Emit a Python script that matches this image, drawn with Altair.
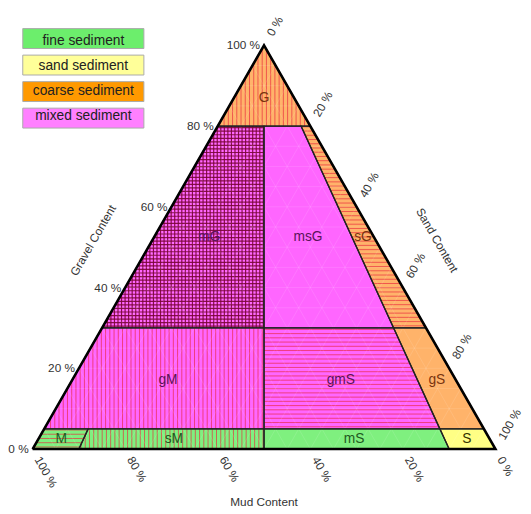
import altair as alt
import pandas as pd

# ---------------- data ----------------
classes = ["G", "mG", "msG", "sG", "gM", "gmS", "gS", "M", "sM", "mS", "S"]
gravel_low = [80, 30, 30, 30, 5, 5, 5, 0, 0, 0, 0]
gravel_high = [100, 80, 80, 80, 30, 30, 30, 5, 5, 5, 5]
# sand / (sand + mud) limits of each class
sand_ratio_low = [0, 0, 0.5, 0.9, 0, 0.5, 0.9, 0, 0.1, 0.5, 0.9]
sand_ratio_high = [1, 0.5, 0.9, 1, 0.5, 0.9, 1, 0.1, 0.5, 0.9, 1]
sediment_group = ["coarse sediment", "mixed sediment", "mixed sediment", "coarse sediment",
                  "mixed sediment", "mixed sediment", "coarse sediment",
                  "fine sediment", "fine sediment", "fine sediment", "sand sediment"]
hatch_style = ["vertical", "cross", "none", "horizontal", "vertical", "horizontal", "none",
               "horizontal", "vertical", "none", "none"]
label_gravel = [87, 52.5, 52.5, 52.5, 17, 17, 17, 2.6, 2.6, 2.6, 2.6]

legend_groups = ["fine sediment", "sand sediment", "coarse sediment", "mixed sediment"]
legend_colors = ["#6cee6c", "#ffff99", "#ff9900", "#ff80ff"]
region_colors = ["#7ff07f", "#ffff85", "#ffb36a", "#ff66ff"]
label_colors = ["#1f5a1f", "#333300", "#7a3510", "#5a145a"]

tick_values = [0, 20, 40, 60, 80, 100]
grid_levels = list(range(5, 100, 5))

FONT = "Liberation Sans, Arial, Helvetica, sans-serif"
W, H = 470, 410


def X(f, g):
    return f * (100 - g) + g / 2


def region_poly(i):
    g0, g1 = gravel_low[i], gravel_high[i]
    f0, f1 = sand_ratio_low[i], sand_ratio_high[i]
    return [(X(f0, g0), g0), (X(f1, g0), g0), (X(f1, g1), g1), (X(f0, g1), g1)]


def clip(poly, axis, c):
    pts = []
    n = len(poly)
    for k in range(n):
        (ax, ay), (bx, by) = poly[k], poly[(k + 1) % n]
        if axis == "x":
            a, b, ao, bo = ax, bx, ay, by
        else:
            a, b, ao, bo = ay, by, ax, bx
        if abs(a - b) < 1e-12:
            if abs(a - c) < 1e-9:
                pts += [ao, bo]
            continue
        if min(a, b) <= c <= max(a, b):
            t = (c - a) / (b - a)
            pts.append(ao + t * (bo - ao))
    if len(pts) < 2:
        return None
    lo, hi = min(pts), max(pts)
    if hi - lo < 1e-6:
        return None
    return lo, hi


color_of = dict(zip(legend_groups, region_colors))
lcolor_of = dict(zip(legend_groups, label_colors))

area_rows, border_rows, label_rows, hatch_rows = [], [], [], []
for i, c in enumerate(classes):
    g0, g1 = gravel_low[i], gravel_high[i]
    f0, f1 = sand_ratio_low[i], sand_ratio_high[i]
    for g in (g0, g1):
        area_rows.append({"region": c, "g": g, "xl": X(f0, g), "xr": X(f1, g),
                          "fill": color_of[sediment_group[i]]})
    poly = region_poly(i)
    for k, (px, py) in enumerate(poly + [poly[0]]):
        border_rows.append({"region": c, "o": k, "x": px, "y": py})
    label_rows.append({"x": X((f0 + f1) / 2, label_gravel[i]), "y": label_gravel[i], "t": c,
                       "col": lcolor_of[sediment_group[i]]})
    style = hatch_style[i]
    if style == "none":
        continue
    if style == "cross":
        vstep, hstep, col, w, op = 3.6 / (W / 100), 3.6 / (H / 100), "#7a0636", 1.2, 0.9
    else:
        vstep, hstep, col, w, op = 4.3 / (W / 100), 4.3 / (H / 100), "#e8283c", 0.9, 0.75
    xs_ = [p[0] for p in poly]
    ys_ = [p[1] for p in poly]
    if style in ("vertical", "cross"):
        xv = min(xs_) + vstep / 2
        while xv < max(xs_):
            r = clip(poly, "x", xv)
            if r:
                hatch_rows.append({"x": xv, "x2": xv, "y": r[0], "y2": r[1], "col": col, "w": w, "op": op})
            xv += vstep
    if style in ("horizontal", "cross"):
        yv = min(ys_) + hstep / 2
        while yv < max(ys_):
            r = clip(poly, "y", yv)
            if r:
                hatch_rows.append({"x": r[0], "x2": r[1], "y": yv, "y2": yv, "col": col, "w": w, "op": op})
            yv += hstep

grid_rows = []
for v in grid_levels:
    grid_rows.append({"x": v / 2, "y": v, "x2": 100 - v / 2, "y2": v})
    grid_rows.append({"x": v, "y": 0, "x2": v + (100 - v) / 2, "y2": 100 - v})
    grid_rows.append({"x": 100 - v, "y": 0, "x2": (100 - v) / 2, "y2": 100 - v})

tri_rows = [{"o": k, "x": X(f, g), "y": g} for k, (f, g) in enumerate([(0, 0), (1, 0), (0.5, 100), (0, 0)])]

gravel_ticks = pd.DataFrame({"x": [v / 2 for v in tick_values], "y": tick_values,
                             "t": [f"{v} %" for v in tick_values]})
sand_ticks = pd.DataFrame({"x": [50 + v / 2 for v in tick_values], "y": [100 - v for v in tick_values],
                           "t": [f"{v} %" for v in tick_values]})
mud_ticks = pd.DataFrame({"x": [100 - v for v in tick_values], "y": [0] * len(tick_values),
                          "t": [f"{v} %" for v in tick_values]})

xs = alt.Scale(domain=[0, 100], nice=False, zero=False)
ys = alt.Scale(domain=[0, 100], nice=False, zero=False)


def XQ(f="x"):
    return alt.X(f + ":Q", scale=xs, axis=None)


def YQ(f="y"):
    return alt.Y(f + ":Q", scale=ys, axis=None)


areas = alt.Chart(pd.DataFrame(area_rows)).mark_area(orient="horizontal").encode(
    y=YQ("g"), x=alt.X("xl:Q", scale=xs, axis=None, stack=None), x2="xr:Q",
    detail="region:N", fill=alt.Fill("fill:N", scale=None))

hatch = alt.Chart(pd.DataFrame(hatch_rows)).mark_rule().encode(
    x=XQ(), y=YQ(), x2="x2:Q", y2="y2:Q",
    color=alt.Color("col:N", scale=None), strokeWidth=alt.StrokeWidth("w:Q", scale=None),
    opacity=alt.Opacity("op:Q", scale=None))

grid = alt.Chart(pd.DataFrame(grid_rows)).mark_rule(color="white", opacity=0.14, strokeWidth=0.8).encode(
    x=XQ(), y=YQ(), x2="x2:Q", y2="y2:Q")

borders = alt.Chart(pd.DataFrame(border_rows)).mark_line(color="#222222", strokeWidth=1.3).encode(
    x=XQ(), y=YQ(), detail="region:N", order="o:Q")

outline = alt.Chart(pd.DataFrame(tri_rows)).mark_line(color="#000000", strokeWidth=2.6,
                                                     strokeJoin="miter").encode(
    x=XQ(), y=YQ(), order="o:Q")

labels = alt.Chart(pd.DataFrame(label_rows)).mark_text(fontSize=14, font=FONT, baseline="middle").encode(
    x=XQ(), y=YQ(), text="t:N", color=alt.Color("col:N", scale=None))

g_t = alt.Chart(gravel_ticks).mark_text(fontSize=12, font=FONT, color="#333", align="right",
                                        baseline="middle", dx=-4).encode(x=XQ(), y=YQ(), text="t:N")
s_t = alt.Chart(sand_ticks).mark_text(fontSize=12, font=FONT, color="#333", align="left",
                                      baseline="middle", angle=300, dx=12).encode(x=XQ(), y=YQ(), text="t:N")
m_t = alt.Chart(mud_ticks).mark_text(fontSize=12, font=FONT, color="#333", align="left",
                                     baseline="middle", angle=60, dx=10).encode(x=XQ(), y=YQ(), text="t:N")

titles_df = pd.DataFrame({"x": [25, 75, 50], "y": [50, 50, 0],
                          "t": ["Gravel Content", "Sand Content", "Mud Content"]})
t_g = alt.Chart(titles_df.iloc[[0]]).mark_text(fontSize=12, font=FONT, color="#333", angle=300,
                                               dx=-22, dy=-52, baseline="middle").encode(x=XQ(), y=YQ(), text="t:N")
t_s = alt.Chart(titles_df.iloc[[1]]).mark_text(fontSize=12, font=FONT, color="#333", angle=60,
                                               dx=23, dy=-54, baseline="middle").encode(x=XQ(), y=YQ(), text="t:N")
t_m = alt.Chart(titles_df.iloc[[2]]).mark_text(fontSize=12, font=FONT, color="#333",
                                               dy=54, baseline="middle").encode(x=XQ(), y=YQ(), text="t:N")

leg_df = pd.DataFrame({"group": legend_groups})
leg_y = alt.Y("group:N", axis=None,
              scale=alt.Scale(domain=legend_groups, range=[-17, 84], paddingInner=0.25, paddingOuter=0))
leg_rect = alt.Chart(leg_df).mark_rect(stroke="#aaaaaa", strokeWidth=1).encode(
    x=alt.value(-10), x2=alt.value(113), y=leg_y,
    fill=alt.Fill("group:N", scale=alt.Scale(domain=legend_groups, range=legend_colors), legend=None))
leg_text = alt.Chart(leg_df).mark_text(fontSize=14, font=FONT, color="#222", baseline="middle").encode(
    x=alt.value(51.5), y=leg_y, text="group:N")

chart = alt.layer(areas, hatch, grid, borders, outline, labels, g_t, s_t, m_t, t_g, t_s, t_m,
                  leg_rect, leg_text).resolve_scale(y="independent").properties(
    width=W, height=H,
    autosize=alt.AutoSizeParams(type="none"),
    padding={"left": 25, "top": 34, "right": 28, "bottom": 60},
).configure_view(stroke=None)

chart.save("out.html", embed_options={"renderer": "svg", "actions": False})
